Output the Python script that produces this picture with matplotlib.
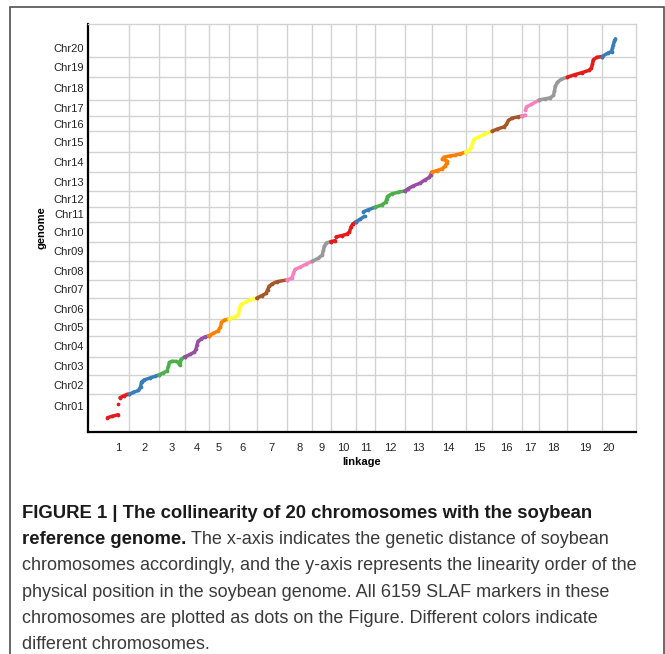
import numpy as np
import matplotlib
matplotlib.use('Agg')
import matplotlib.pyplot as plt
from matplotlib.patches import Rectangle

plt.rcParams['font.family'] = ['Liberation Sans', 'DejaVu Sans']

chroms = ['Chr%02d' % i for i in range(1, 21)]
groups = [str(i) for i in range(1, 21)]

# genetic length of each linkage group (cM) and physical length of each chromosome (Mb)
lg_len = [109, 148.5, 127.5, 120.5, 102, 138, 152, 127.5, 91.5, 127,
          95.5, 148.5, 133.5, 169.5, 132, 148, 89, 140, 174, 66.5]
chr_len = [59.3, 48.3, 45, 52.5, 42.5, 51.8, 45.8, 46.8, 49, 50,
           36, 40.8, 46.8, 50, 52.5, 37.5, 40.8, 56.8, 51.5, 44.3]

# markers inside each group: (cM, Mb), nan = gap between marker runs
nan = np.nan
chr01 = [(0, 0.8), (22.5, 4.3), (54, 8.3), (nan, nan), (54, 35.8), (nan, nan),
         (62.5, 50.8), (82.5, 55.8), (99, 59), (109, 59.3)]
chr02 = [(0, 0), (20, 5), (46, 9.5), (56, 18.3), (61, 30.8), (73.5, 35.8),
         (103.5, 40.8), (128.5, 45), (148.5, 48.3)]
chr03 = [(0, 0), (20, 5), (40, 10), (47.5, 22.5), (52.5, 31.3), (65, 34.3), (85, 33.8),
         (97.5, 31.3), (102.5, 25), (105, 32.5), (110, 38.8), (127.5, 45)]
chr04 = [(0, 0), (27.5, 6.3), (50, 12.5), (57.5, 20), (62.5, 30), (67.5, 38.8),
         (82.5, 45), (102.5, 50), (120.5, 52.5)]
chr05 = [(0, 0), (22, 6.3), (47, 12.5), (59.5, 22.5), (64.5, 33.8), (77, 39.3), (102, 42.5)]
chr06 = [(0, 0), (30, 5.8), (46.5, 10), (50, 21.3), (57.5, 35), (80, 41.8),
         (112.5, 48.8), (138, 51.8)]
chr07 = [(0, 0), (25.5, 6.5), (47, 12), (54.5, 20.8), (62, 29.5), (77, 35.8),
         (102, 41.5), (152, 45.8)]
chr08 = [(0, 0), (25, 5), (32.5, 16.3), (40, 26.3), (65, 31.8), (97.5, 40), (127.5, 46.8)]
chr09 = [(0, 0), (29, 7.5), (49, 15.8), (55, 28.3), (60, 38.3), (70, 45.8), (91.5, 49)]
chr10 = [(0, 0), (21, 2.3), (nan, nan), (26, 11.8), (54.5, 15), (79.5, 18.5),
         (93.5, 24.3), (101, 36.8), (109.5, 43.8), (127, 50)]
chr11 = [(0, 0), (19, 6), (41.5, 13), (nan, nan), (36.5, 24.8), (59, 29.3), (95.5, 36)]
chr12 = [(0, 0), (32, 5.8), (51, 12), (57, 20.8), (61, 27), (82, 33.3), (115, 37.5), (148.5, 40.8)]
chr13 = [(0, 0), (16.5, 5.8), (41.5, 12.5), (75, 19.3), (100, 27.5), (121.5, 33.8),
         (128.5, 40), (133.5, 46.8)]
chr14 = [(0, 0), (26.5, 4), (51.5, 8.3), (66.5, 14.5), (75, 22.5), (75, 28.3), (53, 32.5),
         (61.5, 37.5), (91.5, 40.8), (116.5, 42.5), (141.5, 45.8), (169.5, 50)]
chr15 = [(0, 0), (17, 4.5), (29.5, 12), (34.5, 22), (42, 32), (62, 37), (92, 44.5), (132, 52.5)]
chr16 = [(0, 0), (25, 5), (60, 10.8), (72.5, 17), (82.5, 27), (100, 32.5), (130, 35.8), (148, 37.5)]
chr17 = [(0, 0), (17, 2.5), (nan, nan), (19.5, 14.5), (24.5, 23.3), (49.5, 29.5), (89, 40.8)]
chr18 = [(0, 0), (28, 2.5), (53, 5), (70.5, 11.3), (75.5, 22.5), (79.5, 33.8),
         (90.5, 43.8), (108, 51.3), (140, 56.8)]
chr19 = [(0, 0), (38, 6.3), (73, 11.3), (108, 17), (120.5, 23.3), (125.5, 33.3),
         (129.5, 43.3), (146.5, 49.5), (174, 51.5)]
chr20 = [(0, 0), (30.5, 9.3), (47.5, 12.5), (51.5, 21.8), (55.5, 29.3), (61.5, 39.3), (66.5, 44.3)]

markers = [chr01, chr02, chr03, chr04, chr05, chr06, chr07, chr08, chr09, chr10,
           chr11, chr12, chr13, chr14, chr15, chr16, chr17, chr18, chr19, chr20]

palette = ['#e41a1c', '#377eb8', '#4daf4a', '#984ea3', '#ff7f00',
           '#ffff33', '#a65628', '#f781bf', '#999999']

caption = [
    'chromosomes accordingly, and the y-axis represents the linearity order of the',
    'physical position in the soybean genome. All 6159 SLAF markers in these',
    'chromosomes are plotted as dots on the Figure. Different colors indicate',
    'different chromosomes.',
]

W, H = 665, 654
fig = plt.figure(figsize=(W / 100, H / 100), dpi=100)
ax = fig.add_axes([88 / W, 1 - 432 / H, 548 / W, 408 / H])

x_edge = np.concatenate([[0], np.cumsum(lg_len)])
y_edge = np.concatenate([[0], np.cumsum(chr_len)])

for i, pts in enumerate(markers):
    pts = np.array(pts, dtype=float)
    ax.plot(x_edge[i] + pts[:, 0], y_edge[i] + pts[:, 1], color=palette[i % 9],
            lw=2.5, marker='o', ms=2.7, mew=0,
            solid_capstyle='round', solid_joinstyle='round', zorder=3)

ax.set_xlim(-97.5, 2642.5)
ax.set_ylim(-35, 985)

# labels in the middle of each group, grid on the group borders
ax.set_xticks((x_edge[:-1] + x_edge[1:]) / 2)
ax.set_xticklabels(groups)
ax.set_yticks((y_edge[:-1] + y_edge[1:]) / 2)
ax.set_yticklabels(chroms)
ax.set_xticks(x_edge[1:-1], minor=True)
ax.set_yticks(y_edge[1:-1], minor=True)
ax.grid(which='minor', color='#d2d2d2', lw=1.0)
ax.tick_params(which='both', length=0, labelsize=8, colors='#222222')
ax.tick_params(axis='x', pad=8)
ax.tick_params(axis='y', pad=3)

for s in ['left', 'bottom']:
    ax.spines[s].set_linewidth(1.6)
    ax.spines[s].set_color('black')
for s in ['top', 'right']:
    ax.spines[s].set_linewidth(1.0)
    ax.spines[s].set_color('#d2d2d2')

ax.set_xlabel('linkage', fontsize=8, weight='bold')
ax.xaxis.set_label_coords(0.5, -0.061)
ax.set_ylabel('genome', fontsize=8, weight='bold')
ax.yaxis.set_label_coords(-0.075, 0.5)

# frame round chart and caption
fig.patches.append(Rectangle((10 / W, -0.02), 653.5 / W, 1.02 - 6.5 / H, transform=fig.transFigure,
                             fill=False, ec='#505050', lw=1.2))

fs_b = 13.3
fs = 13.0
fig.text(22 / W, 1 - 513 / H, 'FIGURE 1 | The collinearity of 20 chromosomes with the soybean',
         fontsize=fs_b, weight='bold', va='center', color='#1a1a1a')
t = fig.text(22 / W, 1 - 539.5 / H, 'reference genome.', fontsize=fs_b, weight='bold',
             va='center', color='#1a1a1a')
fig.canvas.draw()
bb = t.get_window_extent()
fig.text((bb.x1 + 5) / W, 1 - 539.5 / H,
         'The x-axis indicates the genetic distance of soybean',
         fontsize=fs, va='center', color='#3a3a3a')
for k, line in enumerate(caption):
    fig.text(22 / W, 1 - (566 + 26.3 * k) / H, line, fontsize=fs, va='center', color='#3a3a3a')

fig.savefig('out.png', dpi=100)
